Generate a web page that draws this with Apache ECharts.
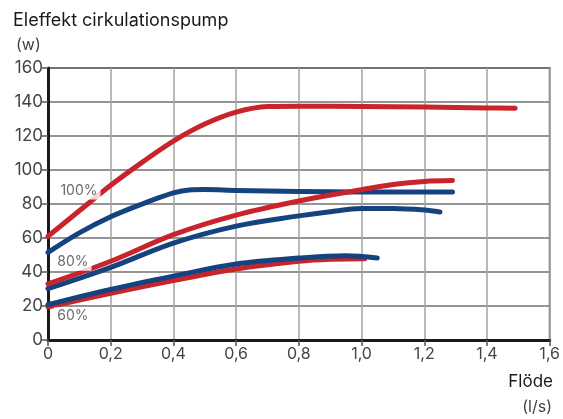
<!DOCTYPE html>
<html><head><meta charset="utf-8">
<script src="https://cdn.jsdelivr.net/npm/echarts@6/dist/echarts.min.js"></script>
<style>html,body{margin:0;padding:0;background:#fff}#c{width:563px;height:419px}</style>
</head><body><div id="c"></div>
<script>
const xTicks = [0,0.2,0.4,0.6,0.8,1.0,1.2,1.4,1.6];
const yTicks = [0,20,40,60,80,100,120,140,160];
const red100 = [[0,61],[0.1,76],[0.2,91],[0.3,104.5],[0.4,117],[0.5,127],[0.6,134],[0.7,137.3],[0.8,137.5],[1.0,137.3],[1.2,137],[1.4,136.5],[1.49,136.3]];
const blue100 = [[0,51.5],[0.1,63],[0.2,72.5],[0.3,80],[0.4,86.5],[0.45,88.3],[0.5,88.5],[0.6,88],[0.8,87.4],[1.0,87.1],[1.2,87],[1.29,87]];
const red80 = [[0,33],[0.2,46.3],[0.4,62],[0.6,73.5],[0.8,81.8],[1.0,88.4],[1.1,91.5],[1.2,93.3],[1.29,93.8]];
const blue80 = [[0,30.2],[0.2,42.7],[0.4,57],[0.6,67],[0.8,73],[0.9,75.5],[1.0,77.3],[1.1,77.4],[1.2,76.5],[1.25,75.3]];
const red60 = [[0,19.4],[0.2,27.5],[0.4,35],[0.6,41.8],[0.8,46.3],[0.9,47.5],[1.01,47.8]];
const blue60 = [[0,20.8],[0.2,29.8],[0.4,37.6],[0.6,44.7],[0.8,48.2],[0.95,49.6],[1.05,48.3]];
const curveLabels = [[0.03,88,'100%'],[0.02,46,'80%'],[0.02,14,'60%']];
const titleText = 'Eleffekt cirkulationspump';
const yUnit = '(w)';
const xName = 'Flöde';
const xUnit = '(l/s)';

const RED = '#c9232b', BLUE = '#15437f';
const FONT = 'Inter';
function line(data, color, z) {
  return {type:'line', data, smooth:0.35, symbol:'none', z,
    lineStyle:{color, width:5, cap:'round', join:'round'}};
}
const chart = echarts.init(document.getElementById('c'));
chart.setOption({
  animation:false,
  textStyle:{fontFamily:FONT},
  grid:{left:48,right:11,top:68,bottom:79,show:true,borderColor:'#777',borderWidth:2,backgroundColor:'transparent'},
  xAxis:{type:'value',min:0,max:1.6,interval:0.2,
    axisLine:{show:true,onZero:false,lineStyle:{color:'#1a1a1a',width:3}},
    axisTick:{show:true,length:6,lineStyle:{color:'#555',width:1.5}},
    axisLabel:{color:'#444',fontSize:16,fontFamily:FONT,margin:6,
      formatter:v=>v===0?'0':v.toFixed(1).replace('.',',')},
    splitLine:{show:true,lineStyle:{color:'#a3a3a3',width:1.5}}},
  yAxis:{type:'value',min:0,max:160,interval:20,
    axisLine:{show:true,onZero:false,lineStyle:{color:'#1a1a1a',width:3}},
    axisTick:{show:true,length:6,lineStyle:{color:'#555',width:1.5}},
    axisLabel:{color:'#444',fontSize:17,fontFamily:FONT,margin:5,formatter:v=>String(v)},
    splitLine:{show:true,lineStyle:{color:'#707070',width:1.5}}},
  graphic:[
    {type:'text',left:13,top:12,style:{text:titleText,fontSize:18,fill:'#1a1a1a',fontFamily:FONT}},
    {type:'text',left:16,top:37,style:{text:yUnit,fontSize:16,fill:'#444',fontFamily:FONT}},
    {type:'text',right:10,top:373,style:{text:xName,fontSize:17,fill:'#1a1a1a',fontFamily:FONT}},
    {type:'text',right:11,top:399,style:{text:xUnit,fontSize:16,fill:'#444',fontFamily:FONT}}
  ],
  series:[
    line(red100,RED,2), line(blue100,BLUE,3),
    line(blue80,BLUE,2), line(red80,RED,3),
    line(red60,RED,2), line(blue60,BLUE,3),
    {type:'scatter',z:10,symbolSize:0,data:curveLabels.map(d=>({value:[d[0],d[1]],name:d[2]})),
      label:{show:true,position:'right',distance:0,formatter:p=>p.name,color:'#444',fontSize:14,fontFamily:FONT,
        backgroundColor:'#fff',padding:[2,3,2,3]}}
  ]
});
</script></body></html>
